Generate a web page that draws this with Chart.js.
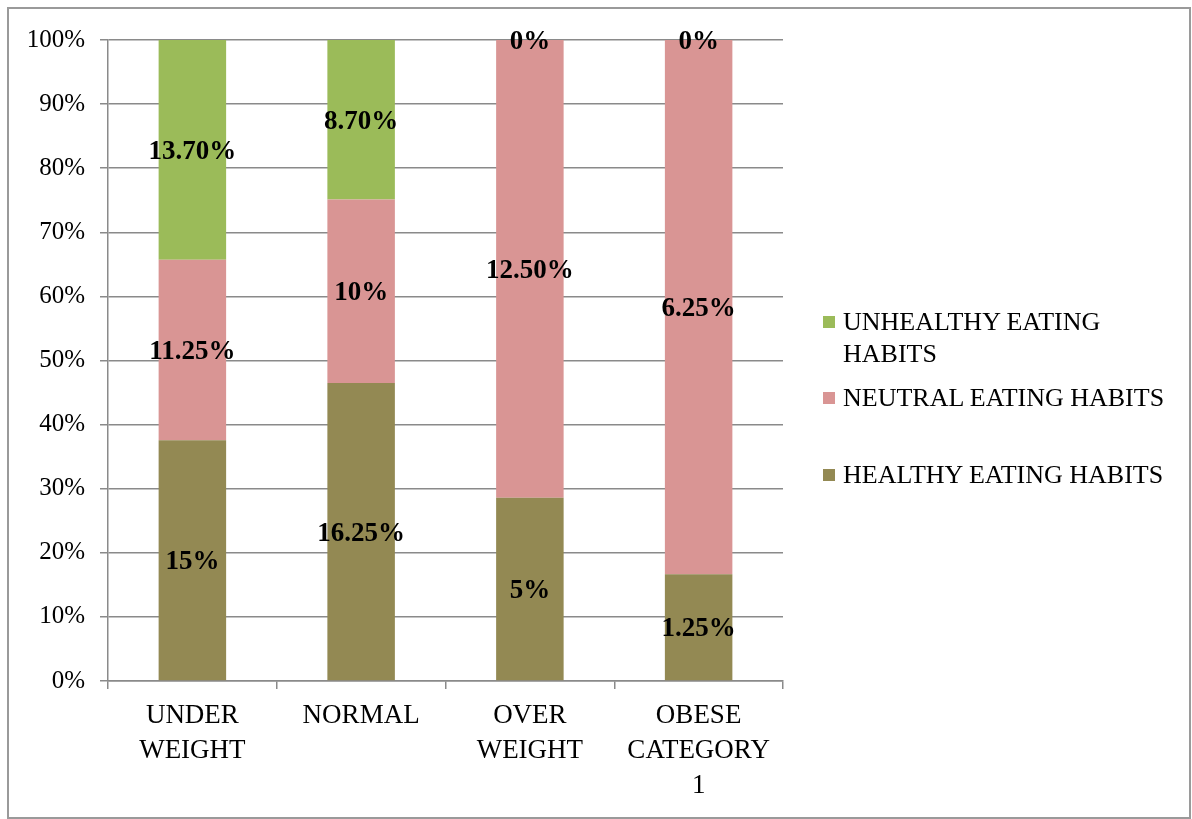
<!DOCTYPE html>
<html lang="en">
<head>
  <meta charset="UTF-8">
  <title>Eating habits by BMI category</title>
  <script src="https://cdn.jsdelivr.net/npm/chart.js@4"></script>
  <style>
    body {
      margin: 0;
      background: #fff;
      font-family: "Liberation Serif", "Times New Roman", serif;
    }
    #box {
      position: absolute;
      left: 7px;
      top: 7px;
      width: 1180px;
      height: 808px;
      border: 2px solid #9a9a9a;
    }
    #wrap {
      position: absolute;
      left: 0;
      top: 0;
      width: 1180px;
      height: 808px;
    }
    #legend {
      position: absolute;
      left: 814px;
      top: 0;
      width: 340px;
      font-size: 26px;
      line-height: 32px;
      color: #000;
    }
    .item {
      position: absolute;
      left: 0;
      width: 340px;
      padding-left: 20px;
    }
    .item span.sw {
      position: absolute;
      left: 0;
      top: 10px;
      width: 12px;
      height: 12px;
    }
  </style>
</head>
<body>
  <div id="box">
    <div id="wrap"><canvas id="chart"></canvas></div>
    <div id="legend"></div>
  </div>
  <script>
    // categories
    const categories = [["UNDER", "WEIGHT"], "NORMAL", ["OVER", "WEIGHT"], ["OBESE", "CATEGORY", "1"]];

    // raw values (percent of respondents), shown as labels; bars are 100% stacked
    const healthy = [15, 16.25, 5, 1.25];
    const neutral = [11.25, 10, 12.5, 6.25];
    const unhealthy = [13.7, 8.7, 0, 0];

    const healthyLabels = ["15%", "16.25%", "5%", "1.25%"];
    const neutralLabels = ["11.25%", "10%", "12.50%", "6.25%"];
    const unhealthyLabels = ["13.70%", "8.70%", "0%", "0%"];

    const seriesNames = ["HEALTHY EATING HABITS", "NEUTRAL EATING HABITS", "UNHEALTHY EATING HABITS"];
    const colors = ["#938953", "#d99594", "#9bbb59"];

    const yTicks = [0, 10, 20, 30, 40, 50, 60, 70, 80, 90, 100];

    const totals = categories.map((c, i) => healthy[i] + neutral[i] + unhealthy[i]);
    const toPct = arr => arr.map((v, i) => v / totals[i] * 100);

    const serif = '"Liberation Serif", "Times New Roman", serif';

    const valueLabels = {
      id: 'valueLabels',
      afterDatasetsDraw(chart) {
        const ctx = chart.ctx;
        ctx.save();
        ctx.font = 'bold 27px ' + serif;
        ctx.fillStyle = '#000';
        ctx.textAlign = 'center';
        ctx.textBaseline = 'middle';
        chart.data.datasets.forEach((ds, di) => {
          const meta = chart.getDatasetMeta(di);
          meta.data.forEach((bar, i) => {
            const y = (bar.y + bar.base) / 2;
            ctx.fillText(ds.valueText[i], bar.x, y + 2);
          });
        });
        ctx.restore();
      }
    };

    const chart = new Chart(document.getElementById('chart'), {
      type: 'bar',
      data: {
        labels: categories,
        datasets: [
          { label: seriesNames[0], data: toPct(healthy), valueText: healthyLabels, backgroundColor: colors[0] },
          { label: seriesNames[1], data: toPct(neutral), valueText: neutralLabels, backgroundColor: colors[1] },
          { label: seriesNames[2], data: toPct(unhealthy), valueText: unhealthyLabels, backgroundColor: colors[2] }
        ]
      },
      options: {
        responsive: true,
        maintainAspectRatio: false,
        animation: false,
        barPercentage: 0.4,
        categoryPercentage: 1.0,
        layout: { padding: { left: 0, top: 31, right: 406, bottom: 0 } },
        plugins: {
          legend: { display: false },
          tooltip: { enabled: false }
        },
        scales: {
          x: {
            stacked: true,
            grid: {
              offset: true,
              drawOnChartArea: false,
              drawTicks: true,
              tickLength: 8,
              color: '#8a8a8a',
              lineWidth: 1.5
            },
            border: { color: '#8a8a8a', width: 1.5 },
            ticks: {
              color: '#000',
              font: { family: serif, size: 27, lineHeight: 1.3 },
              padding: 9,
              maxRotation: 0,
              autoSkip: false
            },
            afterFit(scale) { scale.height = 136; }
          },
          y: {
            stacked: true,
            min: 0,
            max: 100,
            afterBuildTicks(scale) { scale.ticks = yTicks.map(v => ({ value: v })); },
            grid: {
              color: '#8a8a8a',
              lineWidth: 1.5,
              tickLength: 8
            },
            border: { color: '#8a8a8a', width: 1.5 },
            ticks: {
              color: '#000',
              font: { family: serif, size: 25 },
              padding: 15,
              callback: v => v + '%'
            },
            afterFit(scale) { scale.width = 99; }
          }
        }
      },
      plugins: [valueLabels]
    });

    // legend, top to bottom in reverse stacking order
    const legendTops = [297, 373, 450];
    const legend = document.getElementById('legend');
    [2, 1, 0].forEach((si, k) => {
      const div = document.createElement('div');
      div.className = 'item';
      div.style.top = legendTops[k] + 'px';
      const sw = document.createElement('span');
      sw.className = 'sw';
      sw.style.background = colors[si];
      div.appendChild(sw);
      div.appendChild(document.createTextNode(seriesNames[si]));
      legend.appendChild(div);
    });
  </script>
</body>
</html>
